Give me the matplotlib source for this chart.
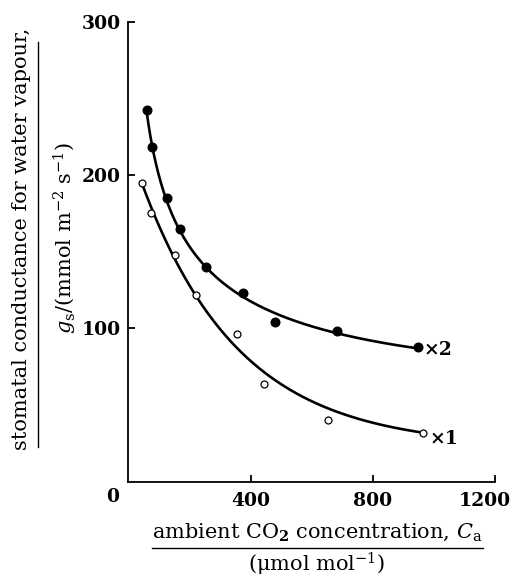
import numpy as np
import matplotlib
matplotlib.use("Agg")
import matplotlib.pyplot as plt
from matplotlib.lines import Line2D
import matplotlib.transforms as mtransforms

# data
x_filled = [56, 73, 122, 166, 251, 372, 478, 683, 949]
y_filled = [242.5, 218, 185, 165, 140, 123, 104, 98, 88]
x_open = [40, 70, 150, 219, 352, 441, 654, 964]
y_open = [195, 175, 148, 122, 96, 64, 40, 32]
series_labels = ["×2", "×1"]
xticks = [400, 800, 1200]
yticks = [100, 200, 300]

plt.rcParams['font.family'] = ['DejaVu Serif']
plt.rcParams['mathtext.fontset'] = 'dejavuserif'

fig = plt.figure(figsize=(5.16, 5.78), dpi=100)
W, H = 516, 578
x0px, x1px = 128.0, 494.5
y0px, y1px = 481.7, 21.7
ax = fig.add_axes([x0px / W, 1 - y0px / H, (x1px - x0px) / W, (y0px - y1px) / H])
ax.set_xlim(-5, 1200)
ax.set_ylim(0, 300)

# filled series: quadratic in ln x (least squares)
xa = np.array(x_filled, float); ya = np.array(y_filled, float)
p = np.polyfit(np.log(xa), ya, 2)
xs = np.linspace(xa.min(), xa.max(), 300)
ax.plot(xs, np.polyval(p, np.log(xs)), color='black', lw=1.9, zorder=2)

# open series: exponential decay through the end points, decay length by least squares
xo = np.array(x_open, float); yo = np.array(y_open, float)
best = None
for c in np.linspace(80, 1500, 800):
    e0, e1 = np.exp(-xo[0] / c), np.exp(-xo[-1] / c)
    b = (yo[0] - yo[-1]) / (e0 - e1)
    a = yo[0] - b * e0
    r = np.sum((a + b * np.exp(-xo / c) - yo) ** 2)
    if best is None or r < best[0]:
        best = (r, a, b, c)
_, a, b, c = best
xs2 = np.linspace(xo.min(), xo.max(), 300)
ax.plot(xs2, a + b * np.exp(-xs2 / c), color='black', lw=1.9, zorder=2)

ax.plot(x_filled, y_filled, 'o', ms=6.2, color='black', zorder=3)
ax.plot(x_open, y_open, 'o', ms=5.0, mfc='white', mec='black', mew=0.9, zorder=3)

ax.text(966, y_filled[-1] - 2, series_labels[0], fontsize=13.5, fontweight='bold', ha='left', va='center')
ax.text(986, y_open[-1] - 4, series_labels[1], fontsize=13.5, fontweight='bold', ha='left', va='center')

for s in ['top', 'right']:
    ax.spines[s].set_visible(False)
for s in ['left', 'bottom']:
    ax.spines[s].set_linewidth(1.3)

ax.set_xticks(xticks)
ax.set_xticklabels([str(v) for v in xticks], fontsize=13.5, fontweight='bold')
ax.set_yticks(yticks)
ax.set_yticklabels([str(v) for v in yticks], fontsize=13.5, fontweight='bold')
ax.tick_params(direction='in', length=5, width=1.3)
ax.tick_params(axis='x', pad=7.5)
ax.tick_params(axis='y', pad=5)
lab = ax.get_xticklabels()[-1]
lab.set_transform(lab.get_transform() + mtransforms.ScaledTranslation(-10 / 100, 0, fig.dpi_scale_trans))
ax.text(-54, -10, "0", fontsize=13.5, fontweight='bold', ha='center', va='center')

# x label
fig.text(317 / W, 1 - 532 / H, r"ambient CO$_\mathbf{2}$ concentration, $C_\mathrm{a}$",
         fontsize=15, ha='center', va='center')
fig.add_artist(Line2D([152 / W, 483 / W], [1 - 548 / H, 1 - 548 / H], color='black', lw=1.0))
fig.text(317 / W, 1 - 564 / H, r"($\mathrm{\mu}$mol mol$^{-1}$)", fontsize=15, ha='center', va='center')

# y label
fig.text(22 / W, 1 - 239 / H, "stomatal conductance for water vapour,", fontsize=15,
         rotation=90, ha='center', va='center')
fig.add_artist(Line2D([38 / W, 38 / W], [1 - 42 / H, 1 - 447 / H], color='black', lw=1.0))
fig.text(65 / W, 1 - 238 / H, r"$g_\mathrm{s}$/(mmol m$^{-2}$ s$^{-1}$)", fontsize=15,
         rotation=90, ha='center', va='center')

fig.savefig("out.png", dpi=100)
